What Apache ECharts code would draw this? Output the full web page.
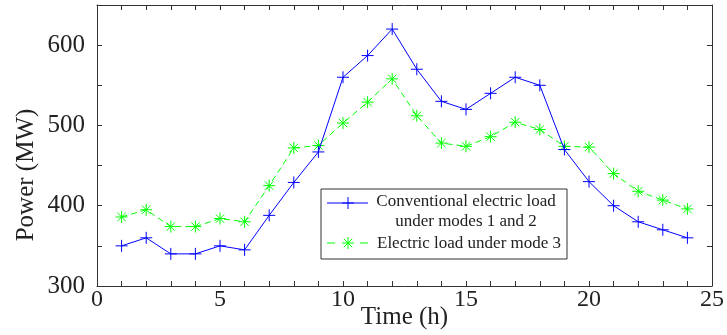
<!DOCTYPE html>
<html><head><meta charset="utf-8">
<script src="https://cdn.jsdelivr.net/npm/echarts@6/dist/echarts.min.js"></script>
<style>html,body{margin:0;padding:0;background:#fff}#c{width:727px;height:335px}</style>
</head><body><div id="c"></div>
<script>
const hours = [1,2,3,4,5,6,7,8,9,10,11,12,13,14,15,16,17,18,19,20,21,22,23,24];
const conventionalLoad = [350,360,340,340,350,345,388,429,467,560,587,620,570,530,520,540,560,550,470,430,400,380,370,360];
const mode3Load = [386,395,374,374,384,380,425,472,475,503,529,558,512,478,474,486,504,495,474,473,440,418,407,396];
const seriesNames = ['Conventional electric load\nunder modes 1 and 2', 'Electric load under mode 3'];

const FONT = '"Liberation Serif", "Times New Roman", serif';
const plusPath = 'path://M0,6L12,6M6,0L6,12';
const starPath = 'path://M0,6L12,6M6,0L6,12M1.8,1.8L10.2,10.2M1.8,10.2L10.2,1.8';
const BLUE = '#0000ff', GREEN = '#00ff00';

function seg(x1, y1, x2, y2, color, dash) {
  return {type: 'line', shape: {x1, y1, x2, y2}, style: {stroke: color, lineWidth: 1, lineDash: dash || null}, z: 11};
}

const chart = echarts.init(document.getElementById('c'));
const axisCommon = {
  type: 'value',
  axisLine: {show: true, onZero: false, lineStyle: {color: '#333', width: 1}},
  axisTick: {show: true, inside: true, length: 5, lineStyle: {color: '#333'}},
  splitLine: {show: false},
  nameMoveOverlap: false
};
chart.setOption({
  animation: false,
  grid: {left: 97, right: 15, top: 5, bottom: 49, containLabel: false, outerBoundsMode: 'none'},
  xAxis: [
    Object.assign({}, axisCommon, {
      min: 0, max: 25, interval: 1,
      axisLabel: {fontFamily: FONT, fontSize: 24, color: '#222', margin: 2,
        formatter: v => (v % 5 === 0) ? String(v) : ''},
      name: 'Time (h)', nameLocation: 'middle', nameGap: 19,
      nameTextStyle: {fontFamily: FONT, fontSize: 25, color: '#222'}
    }),
    Object.assign({}, axisCommon, {
      position: 'top', min: 0, max: 25, interval: 1,
      axisLabel: {show: false}
    })
  ],
  yAxis: [
    Object.assign({}, axisCommon, {
      min: 300, max: 650, interval: 50,
      axisLabel: {fontFamily: FONT, fontSize: 25, color: '#222', margin: 12,
        formatter: v => (v % 100 === 0 && v <= 600) ? String(v) : ''},
      name: 'Power (MW)', nameLocation: 'middle', nameGap: 58, nameRotate: 90,
      nameTextStyle: {fontFamily: FONT, fontSize: 25, color: '#222', padding: [0, 59, 0, 0]}
    }),
    Object.assign({}, axisCommon, {
      position: 'right', min: 300, max: 650, interval: 50,
      axisLabel: {show: false}
    })
  ],
  series: [
    {
      name: seriesNames[0], type: 'line',
      data: hours.map((h, i) => [h, conventionalLoad[i]]),
      symbol: plusPath, symbolSize: 12,
      lineStyle: {color: BLUE, width: 1},
      itemStyle: {color: BLUE, borderColor: BLUE, borderWidth: 1},
      z: 3
    },
    {
      name: seriesNames[1], type: 'line',
      data: hours.map((h, i) => [h, mode3Load[i]]),
      symbol: starPath, symbolSize: 12,
      lineStyle: {color: GREEN, width: 1, type: [6, 4]},
      itemStyle: {color: GREEN, borderColor: GREEN, borderWidth: 1},
      z: 2
    }
  ],
  graphic: [
    {type: 'rect', shape: {x: 321, y: 189, width: 246, height: 70}, style: {fill: '#fff', stroke: '#333', lineWidth: 1}, z: 10},
    seg(327, 203, 368, 203, BLUE),
    seg(342, 203, 354, 203, BLUE),
    seg(348, 197, 348, 209, BLUE),
    {type: 'text', x: 466, y: 202, style: {text: 'Conventional electric load', font: '17px ' + FONT, fill: '#222', align: 'center', verticalAlign: 'middle'}, z: 11},
    {type: 'text', x: 466, y: 222, style: {text: 'under modes 1 and 2', font: '17px ' + FONT, fill: '#222', align: 'center', verticalAlign: 'middle'}, z: 11},
    seg(327, 243, 335, 243, GREEN),
    seg(360, 243, 368, 243, GREEN),
    seg(342, 243, 354, 243, GREEN),
    seg(348, 237, 348, 249, GREEN),
    seg(343.8, 238.8, 352.2, 247.2, GREEN),
    seg(343.8, 247.2, 352.2, 238.8, GREEN),
    {type: 'text', x: 377, y: 244, style: {text: 'Electric load under mode 3', font: '17px ' + FONT, fill: '#222', align: 'left', verticalAlign: 'middle'}, z: 11}
  ]
});
</script></body></html>
